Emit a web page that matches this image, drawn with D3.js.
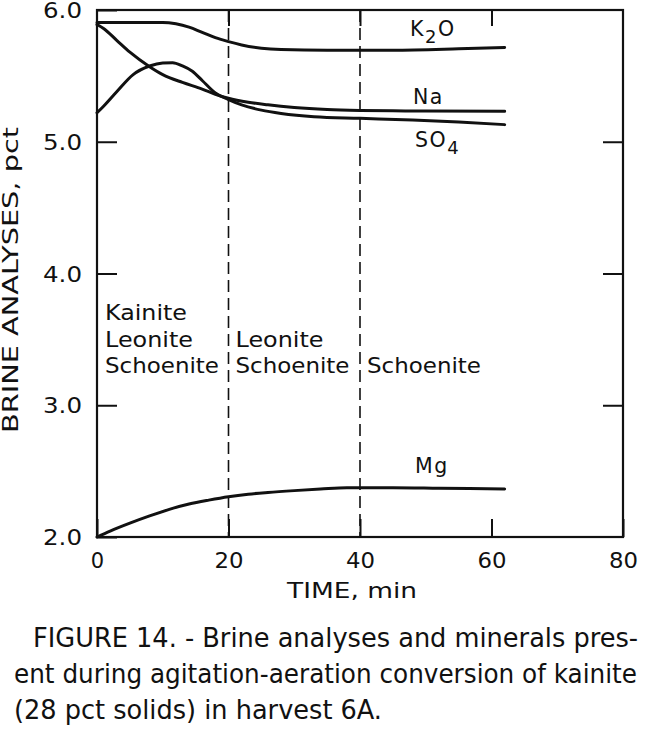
<!DOCTYPE html>
<html>
<head>
<meta charset="utf-8">
<script src="https://cdn.jsdelivr.net/npm/d3@7"></script>
<style>
  html, body { margin: 0; padding: 0; background: #fff; }
  svg { display: block; }
</style>
</head>
<body>
<svg id="chart" width="647" height="731"></svg>
<script>
// ---- data ----
const k2oTime   = [0, 5, 10, 12, 14, 16, 18, 20, 22, 25, 28, 35, 45, 55, 62];
const k2oValues = [5.905, 5.905, 5.905, 5.895, 5.87, 5.83, 5.79, 5.76, 5.735, 5.71, 5.70, 5.695, 5.695, 5.705, 5.715];

const naTime   = [0, 1, 3, 5, 8, 10, 13, 16, 18, 20, 23, 26, 30, 35, 40, 45, 50, 62];
const naValues = [5.89, 5.86, 5.77, 5.68, 5.57, 5.51, 5.45, 5.40, 5.36, 5.33, 5.30, 5.28, 5.26, 5.245, 5.238, 5.235, 5.233, 5.232];

const so4Time   = [0, 1, 3, 5.5, 8, 10, 11.5, 13, 14.5, 16, 18, 20, 22, 25, 28, 33, 40, 48, 55, 62];
const so4Values = [5.22, 5.27, 5.38, 5.51, 5.575, 5.598, 5.60, 5.575, 5.535, 5.465, 5.37, 5.32, 5.28, 5.24, 5.215, 5.19, 5.178, 5.165, 5.15, 5.13];

const mgTime   = [0, 2, 5, 8, 11, 14, 17, 20, 23, 26, 30, 34, 38, 45, 52, 62];
const mgValues = [2.0, 2.045, 2.105, 2.16, 2.21, 2.25, 2.28, 2.306, 2.325, 2.338, 2.352, 2.364, 2.374, 2.374, 2.37, 2.364];

const xTicks = [0, 20, 40, 60, 80];
const yTicks = [2, 3, 4, 5, 6];
const phaseBounds = [20, 40];
const mineralGroups = [
  {t: 0,  lines: ["Kainite", "Leonite", "Schoenite"]},
  {t: 20, lines: ["Leonite", "Schoenite"]},
  {t: 40, lines: ["Schoenite"]}
];
const captionLines = [
  "FIGURE 14. - Brine analyses and minerals pres-",
  "ent during agitation-aeration conversion of kainite",
  "(28 pct solids) in harvest 6A."
];

// ---- layout ----
const svg = d3.select("#chart");
const L = 97, R = 623, T = 10, B = 537;
const x = d3.scaleLinear().domain([0, 80]).range([L, R]);
const y = d3.scaleLinear().domain([2, 6]).range([B, T]);
const font = "'DejaVu Sans', sans-serif";
const ink = "#111";

// frame
svg.append("rect").attr("x", L).attr("y", T).attr("width", R - L).attr("height", B - T)
  .attr("fill", "none").attr("stroke", ink).attr("stroke-width", 2.2);

// phase boundaries
svg.selectAll("line.phase").data(phaseBounds).join("line").attr("class", "phase")
  .attr("x1", d => x(d)).attr("x2", d => x(d)).attr("y1", T).attr("y2", B)
  .attr("stroke", ink).attr("stroke-width", 1.6).attr("stroke-dasharray", "12,6");

// axes
function styleAxis(g) {
  g.select(".domain").remove();
  g.selectAll(".tick line").attr("stroke", ink).attr("stroke-width", 2);
  g.selectAll(".tick text").attr("fill", ink).attr("font-family", font).attr("font-size", 21);
}
const gx = svg.append("g").attr("transform", `translate(0,${B})`)
  .call(d3.axisBottom(x).tickValues(xTicks).tickSizeInner(-18).tickSizeOuter(0).tickPadding(0))
  .call(styleAxis);
gx.selectAll(".tick text").attr("y", 31).attr("dy", 0)
  .each(function(d){ if (String(d).length > 1) d3.select(this).attr("textLength", 29).attr("lengthAdjust", "spacingAndGlyphs"); });

const gy = svg.append("g").attr("transform", `translate(${L},0)`)
  .call(d3.axisLeft(y).tickValues(yTicks).tickSizeInner(-20).tickSizeOuter(0).tickPadding(15).tickFormat(d3.format(".1f")))
  .call(styleAxis);
gy.selectAll(".tick text").attr("dy", "0.36em").attr("textLength", 39).attr("lengthAdjust", "spacingAndGlyphs");

svg.append("g").attr("transform", `translate(${R},0)`)
  .call(d3.axisRight(y).tickValues([3, 4, 5]).tickSizeInner(-20).tickSizeOuter(0).tickFormat(""))
  .call(styleAxis);
svg.append("g").attr("transform", `translate(0,${T})`)
  .call(d3.axisTop(x).tickValues([20, 40, 60]).tickSizeInner(-16).tickSizeOuter(0).tickFormat(""))
  .call(styleAxis);

// axis titles
svg.append("text").attr("x", 352).attr("y", 598).attr("text-anchor", "middle")
  .attr("font-family", font).attr("font-size", 21).attr("fill", ink)
  .attr("textLength", 130).attr("lengthAdjust", "spacingAndGlyphs")
  .text("TIME, min");
svg.append("text").attr("transform", "translate(18,280) rotate(-90)").attr("text-anchor", "middle")
  .attr("font-family", font).attr("font-size", 21).attr("fill", ink)
  .attr("textLength", 306).attr("lengthAdjust", "spacingAndGlyphs")
  .text("BRINE ANALYSES, pct");

// curves
const line = d3.line().x(d => x(d[0])).y(d => y(d[1])).curve(d3.curveMonotoneX);
const series = [
  d3.zip(k2oTime, k2oValues),
  d3.zip(naTime, naValues),
  d3.zip(so4Time, so4Values),
  d3.zip(mgTime, mgValues)
];
svg.selectAll("path.curve").data(series).join("path").attr("class", "curve")
  .attr("d", line).attr("fill", "none").attr("stroke", ink).attr("stroke-width", 3)
  .attr("stroke-linecap", "round");

// series labels
function label(xp, yp, main, sub, after) {
  const t = svg.append("text").attr("x", xp).attr("y", yp)
    .attr("font-family", font).attr("font-size", 20.5).attr("fill", ink).attr("letter-spacing", 1.5);
  t.append("tspan").text(main);
  if (sub) {
    t.append("tspan").attr("dy", 7).attr("font-size", 18).text(sub);
    if (after) t.append("tspan").attr("dy", -7).text(after);
  }
}
label(410, 36, "K", "2", "O");
label(413, 104, "Na");
label(415, 147, "SO", "4");
label(415, 473, "Mg");

// mineral labels
const lineBase = [320, 347, 373];
mineralGroups.forEach(g => {
  const n = g.lines.length;
  g.lines.forEach((s, i) => {
    const base = lineBase[3 - n + i];
    const w = s === "Schoenite" ? 114 : (s === "Leonite" ? 88 : 82);
    svg.append("text").attr("x", x(g.t) + (g.t === 0 ? 8 : 7)).attr("y", base)
      .attr("font-family", font).attr("font-size", 20.5).attr("fill", ink)
      .attr("textLength", w).attr("lengthAdjust", "spacingAndGlyphs")
      .text(s);
  });
});

// caption
const capFont = "'Liberation Sans Narrow', 'DejaVu Sans Condensed', 'Arial Narrow', sans-serif";
const capPos = [{x: 33, y: 647, w: 605}, {x: 14, y: 683, w: 623}, {x: 14, y: 719, w: 368}];
captionLines.forEach((s, i) => {
  svg.append("text").attr("x", capPos[i].x).attr("y", capPos[i].y)
    .attr("font-family", capFont).attr("font-size", 26).attr("fill", ink)
    .attr("textLength", capPos[i].w).attr("lengthAdjust", "spacingAndGlyphs")
    .text(s);
});
</script>
</body>
</html>
